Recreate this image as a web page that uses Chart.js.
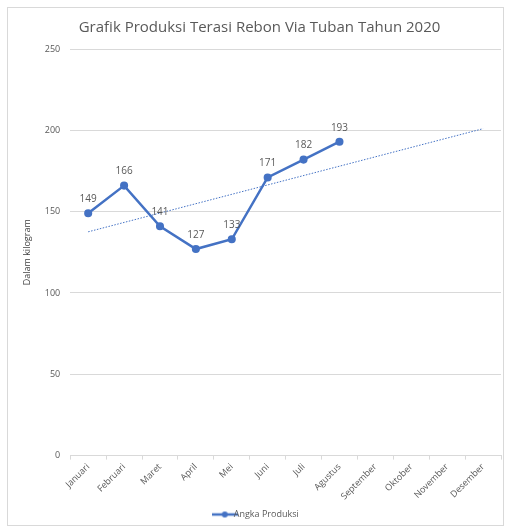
<!DOCTYPE html>
<html>
<head>
<meta charset="utf-8">
<script src="https://cdn.jsdelivr.net/npm/chart.js@4.4.1/dist/chart.umd.min.js"></script>
<style>
  body { margin: 0; background: #fff; }
  #frame { position: absolute; left: 7px; top: 7px; width: 495px; height: 517px; border: 1px solid #d9d9d9; }
  #grafik { position: absolute; left: 0; top: 0; }
</style>
</head>
<body>
<div id="frame"></div>
<canvas id="grafik" width="509" height="529"></canvas>
<script>
// data
const bulan = ['Januari', 'Februari', 'Maret', 'April', 'Mei', 'Juni', 'Juli', 'Agustus',
               'September', 'Oktober', 'November', 'Desember'];
const angkaProduksi = [149, 166, 141, 127, 133, 171, 182, 193, null, null, null, null];
// garis tren (titik awal dan akhir)
const garisTren = [137.6, null, null, null, null, null, null, null, null, null, null, 201];
const tickY = [0, 50, 100, 150, 200, 250];

const abu = '#595959';
const biru = '#4472C4';

// ikon legend: garis dengan titik
const ikon = document.createElement('canvas');
ikon.width = 26; ikon.height = 8;
(function () {
    const c = ikon.getContext('2d');
    c.strokeStyle = biru; c.lineWidth = 2.5;
    c.beginPath(); c.moveTo(0, 4); c.lineTo(26, 4); c.stroke();
    c.fillStyle = biru;
    c.beginPath(); c.arc(13, 4, 3, 0, Math.PI * 2); c.fill();
})();

// plugin untuk label angka di atas titik
const labelAngka = {
    id: 'labelAngka',
    afterDatasetsDraw(chart) {
        const ctx = chart.ctx;
        const meta = chart.getDatasetMeta(0);
        ctx.save();
        ctx.font = '10px "Open Sans"';
        ctx.fillStyle = abu;
        ctx.textAlign = 'center';
        ctx.textBaseline = 'middle';
        meta.data.forEach((titik, i) => {
            const v = angkaProduksi[i];
            if (v === null) return;
            ctx.fillText(v, titik.x, titik.y - 14);
        });
        ctx.restore();
    }
};

const ctx = document.getElementById('grafik').getContext('2d');
const chart = new Chart(ctx, {
    type: 'line',
    data: {
        labels: bulan,
        datasets: [{
            label: 'Angka Produksi',
            data: angkaProduksi,
            borderColor: biru,
            backgroundColor: biru,
            borderWidth: 2.5,
            pointRadius: 2.8,
            pointHoverRadius: 2.8,
            pointBackgroundColor: biru,
            tension: 0
        }, {
            label: 'Tren',
            data: garisTren,
            borderColor: biru,
            borderWidth: 1,
            borderDash: [1.5, 1.5],
            pointRadius: 0,
            spanGaps: true,
            tension: 0
        }]
    },
    options: {
        responsive: false,
        animation: false,
        layout: { padding: { left: 18, right: 8, top: 15, bottom: 0 } },
        plugins: {
            title: {
                display: true,
                text: 'Grafik Produksi Terasi Rebon Via Tuban Tahun 2020',
                color: abu,
                font: { family: 'Open Sans', size: 15, weight: 'normal' },
                padding: { top: 4, bottom: 12 }
            },
            legend: {
                position: 'bottom',
                labels: {
                    color: abu,
                    font: { family: 'Open Sans', size: 9 },
                    usePointStyle: true,
                    padding: 6,
                    filter: item => item.datasetIndex === 0,
                    generateLabels: c => [{
                        text: 'Angka Produksi',
                        pointStyle: ikon,
                        fontColor: abu,
                        datasetIndex: 0,
                        hidden: false
                    }]
                }
            },
            tooltip: { enabled: false }
        },
        scales: {
            x: {
                offset: true,
                grid: { display: true, drawOnChartArea: false, offset: true, tickLength: 4, color: '#d9d9d9' },
                border: { color: '#d9d9d9' },
                ticks: {
                    color: abu,
                    font: { family: 'Open Sans', size: 9 },
                    minRotation: 45,
                    maxRotation: 45,
                    padding: 2
                }
            },
            y: {
                min: 0,
                max: 250,
                afterBuildTicks: s => { s.ticks = tickY.map(v => ({ value: v })); },
                grid: { color: '#d9d9d9', drawTicks: false },
                border: { display: false },
                ticks: {
                    color: abu,
                    font: { family: 'Open Sans', size: 9 },
                    padding: 10
                },
                title: {
                    display: true,
                    text: 'Dalam kilogram',
                    color: '#404040',
                    font: { family: 'Open Sans', size: 9 },
                    padding: { bottom: 2 }
                }
            }
        }
    },
    plugins: [labelAngka]
});
</script>
</body>
</html>
